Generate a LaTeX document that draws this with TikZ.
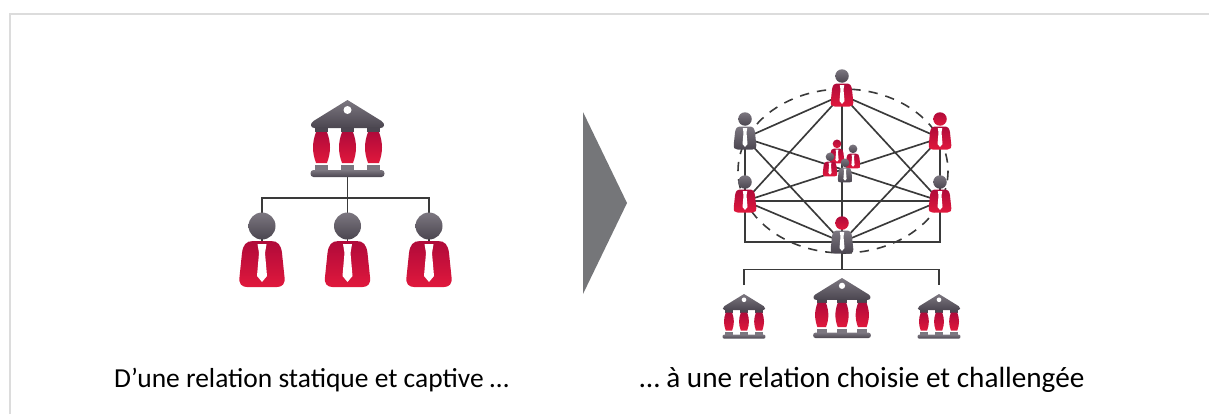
\documentclass[tikz,border=0pt]{standalone}
\usepackage{fontspec}
\setmainfont{Carlito}
\definecolor{framegrey}{HTML}{DCDCDC}
\definecolor{arrowgrey}{HTML}{757679}
\definecolor{linegrey}{HTML}{3A3A3A}
\definecolor{greyhi}{HTML}{7C7780}
\definecolor{greylo}{HTML}{4B4650}
\definecolor{redhi}{HTML}{B00A3A}
\definecolor{redlo}{HTML}{E0183C}
\tikzset{
    redfill/.style={top color=redhi,bottom color=redlo,draw=none},
    greyfill/.style={top color=greyhi,bottom color=greylo,draw=none},
    link/.style={draw=linegrey,line width=1.25pt},
    caption/.style={font=\fontsize{#1}{24}\selectfont,text=black,inner sep=0pt,anchor=base},
    % origin of a person is the middle of its body, #1 head and #2 body
    pics/person/.style 2 args={code={
        \path[#1] (0,-38) circle (13.5);
        \path[#2] (-9,-23) .. controls (-16,-23) and (-19,-19) .. (-20,-11) -- (-22.5,13)
            .. controls (-23.5,20) and (-20,23) .. (-15,23) -- (15,23)
            .. controls (20,23) and (23.5,20) .. (22.5,13) -- (20,-11)
            .. controls (19,-19) and (16,-23) .. (9,-23) -- cycle;
        \fill[white] (-4.5,-20) -- (4.5,-20) -- (3,-11) -- (5,12) -- (0,18) -- (-5,12) -- (-3,-11) -- cycle;
    }},
    % origin of a bank is the tip of its roof
    pics/bank/.style={code={
        \path[greyfill] (0,0) -- (-34,21) .. controls (-38,23.5) and (-37,28) .. (-33,28)
            -- (33,28) .. controls (37,28) and (38,23.5) .. (34,21) -- cycle;
        \fill[white] (0,10) circle (4);
        \foreach \c in {-26,0,26} {
            \fill[greylo] (\c-6.5,27) rectangle (\c+6.5,32);
            \path[redfill] (\c-5.5,32) .. controls (\c-9.5,43) and (\c-9.5,52) .. (\c-5.5,63) -- (\c+5.5,63)
                .. controls (\c+9.5,52) and (\c+9.5,43) .. (\c+5.5,32) -- cycle;
            \fill[greyhi] (\c-6.5,65) rectangle (\c+6.5,71);
        }
        \path[greyfill] (-34,70) -- (34,70) .. controls (38,70) and (38,77) .. (34,77)
            -- (-34,77) .. controls (-38,77) and (-38,70) .. (-34,70) -- cycle;
    }}
}
\begin{document}
\begin{tikzpicture}[x=0.75pt,y=-0.75pt]
    \useasboundingbox (0,0) rectangle (1209,414);
    \draw[framegrey,line width=1.5pt] (9.5,414) -- (9.5,13.5) -- (1209,13.5);

    % left part
    \coordinate (bank) at (347.5,100);
    \coordinate (foot) at (347.5,172);
    \coordinate (rail) at (347.5,197.7);
    \coordinate (boss1) at (262,264);
    \coordinate (boss2) at (347.5,264);
    \coordinate (boss3) at (429,264);
    \draw[link] (foot) -- (boss2);
    \draw[link] (boss1) |- (rail) -| (boss3);
    \pic at (bank) {bank};
    \foreach \p in {boss1,boss2,boss3}
        \pic at (\p) {person={greyfill}{redfill}};

    % arrow
    \fill[arrowgrey] (583,112) -- (627,203) -- (583,294) -- cycle;

    % right part
    \coordinate (ring) at (843,171);
    \coordinate (top) at (842,95);
    \coordinate (upl) at (745,138);
    \coordinate (upr) at (940,138);
    \coordinate (lol) at (745,201);
    \coordinate (lor) at (940,201);
    \coordinate (bot) at (842,242);
    \coordinate (rail2) at (842,269.5);
    \coordinate (dropl) at (744,285);
    \coordinate (dropr) at (939,285);
    \draw[linegrey,line width=1.2pt,dash pattern=on 7pt off 6pt] (ring) ellipse (105 and 82);
    \foreach \a/\b in {top/upl,top/upr,top/lol,top/lor,top/bot,upl/lol,upr/lor,upl/lor,upr/lol,
            lol/lor,upl/bot,upr/bot,lol/bot,lor/bot}
        \draw[link] (\a) -- (\b);
    \draw[link] (lol) |- (bot);
    \draw[link] (lor) |- (bot);
    \draw[link] (bot) -- (rail2);
    \draw[link] (dropl) |- (rail2) -| (dropr);
    \pic[scale=.5] at (top) {person={greyfill}{redfill}};
    \pic[scale=.5] at (upl) {person={greyfill}{greyfill}};
    \pic[scale=.5] at (upr) {person={redfill}{redfill}};
    \pic[scale=.5] at (lol) {person={greyfill}{redfill}};
    \pic[scale=.5] at (lor) {person={greyfill}{redfill}};
    \pic[scale=.5] at (bot) {person={redfill}{greyfill}};
    \coordinate (mid1) at (837,156);
    \coordinate (mid2) at (853,161);
    \coordinate (mid3) at (830,169);
    \coordinate (mid4) at (845,175);
    \pic[scale=.32] at (mid1) {person={redfill}{redfill}};
    \pic[scale=.32] at (mid2) {person={greyfill}{redfill}};
    \pic[scale=.32] at (mid3) {person={greyfill}{redfill}};
    \pic[scale=.32] at (mid4) {person={greyfill}{greyfill}};

    \coordinate (bank1) at (744,294);
    \coordinate (bank2) at (842,278);
    \coordinate (bank3) at (939,294);
    \pic[scale=.58] at (bank1) {bank};
    \pic[scale=.78] at (bank2) {bank};
    \pic[scale=.58] at (bank3) {bank};

    \node[caption=20.6] (textl) at (311.5,387) {D’une relation statique et captive …};
    \node[caption=21.9] (textr) at (862,387) {… à une relation choisie et challengée};
\end{tikzpicture}
\end{document}
